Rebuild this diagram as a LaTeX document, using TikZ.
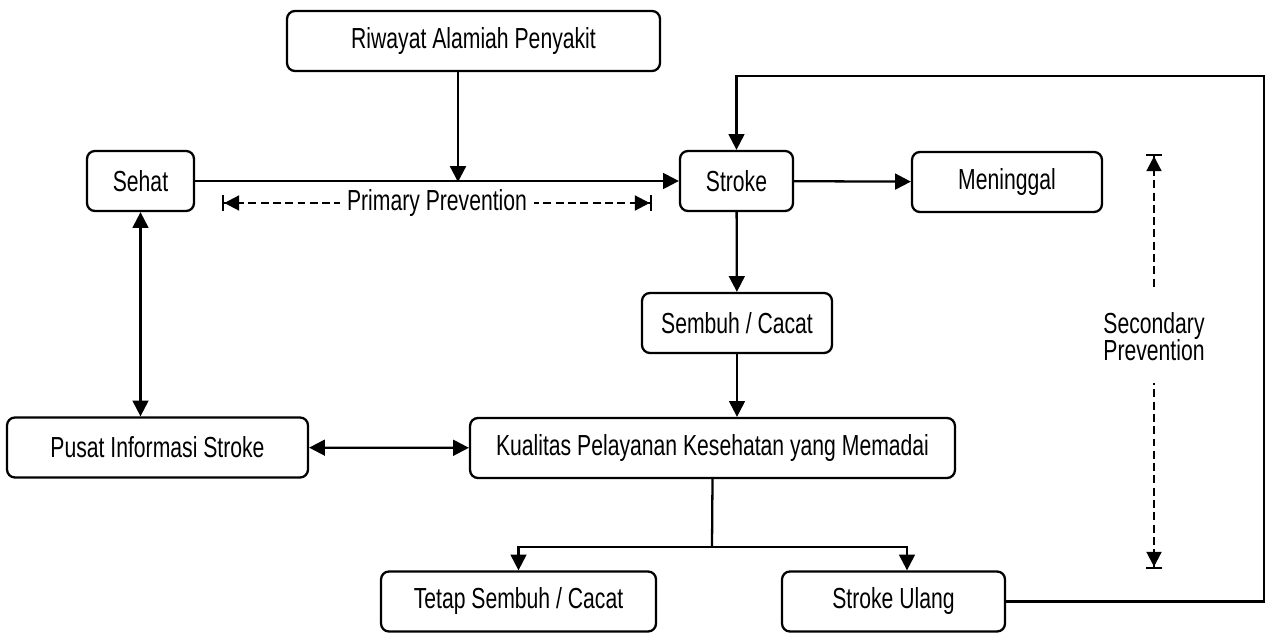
\documentclass[tikz,border=0pt]{standalone}
\usepackage{fontspec}
\setmainfont{Liberation Sans}[FakeStretch=0.73]
\usetikzlibrary{positioning,calc,arrows.meta}
\newcommand{\bnode}[4]{\node [box, minimum width=#3] (#1) at (#2) {#4}}

\tikzset{
  box/.style={draw, rounded corners=4.5pt, minimum height=1.2cm, inner sep=0pt,
    font=\fontsize{16.5}{16.5}\selectfont},
  prev/.style={dash pattern=on 4.5pt off 2.5pt,
    {Bar[width=9pt]Triangle[length=8.5pt,width=8.5pt]}-{Triangle[length=8.5pt,width=8.5pt]Bar[width=9pt]}},
  lbl/.style={fill=white, inner xsep=4pt, font=\fontsize{16.5}{15.5}\selectfont}
}

\begin{document}
\begin{tikzpicture}[x=0.02cm, y=-0.02cm, line width=1.3pt, >={Triangle[length=9pt,width=9pt]}]
\useasboundingbox (0,0) rectangle (1274,644);

\bnode{RIW}{473.5,41}{7.46cm}{Riwayat Alamiah Penyakit};
\bnode{SEH}{140.5,181}{2.14cm}{Sehat};
\bnode{STR}{736.5,181}{2.26cm}{Stroke};
\bnode{MEN}{1007,182}{3.8cm}{Meninggal};
\bnode{SEM}{737,323}{3.8cm}{Sembuh / Cacat};
\bnode{PUS}{157.5,447.5}{6.02cm}{Pusat Informasi Stroke};
\bnode{KUA}{712.5,448}{9.7cm}{Kualitas Pelayanan Kesehatan yang Memadai};
\bnode{TET}{518.5,601.5}{5.5cm}{Tetap Sembuh / Cacat};
\bnode{ULG}{893.5,601.5}{4.46cm}{Stroke Ulang};

% top part
\coordinate (J) at (458,182);
\draw[->] (RIW.south -| J) -- (J);
\draw[->] (SEH) -- (STR);
\draw[->] (STR) -- (MEN);
\draw[->] (STR) -- (SEM);
\draw[->] (SEM.south) -- (SEM.south |- KUA.north);

\coordinate (PA) at (222,203);
\coordinate (PB) at (652,203);
\draw[prev] (PA) -- (PB) node [lbl, midway] {Primary Prevention};

% left side
\draw[<->] (SEH.south) -- (SEH.south |- PUS.north);
\draw[<->] (PUS) -- (KUA);

% bottom split
\coordinate (SPL) at (712,547);
\draw (KUA.south) -- (SPL);
\draw[->] (SPL) -| (TET.north);
\draw[->] (SPL) -| ($(ULG.north)+(13.5,0)$);

% back to stroke
\coordinate (RT) at (1264,76);
\draw[->] (ULG.east) -| (RT) -| (STR.north);

\coordinate (SA) at (1154,154);
\coordinate (SB) at (1154,569);
\draw[prev] (SA) -- (SB) node [lbl, pos=0.44, align=center, inner ysep=0.45cm] {Secondary\\Prevention};

\end{tikzpicture}
\end{document}
